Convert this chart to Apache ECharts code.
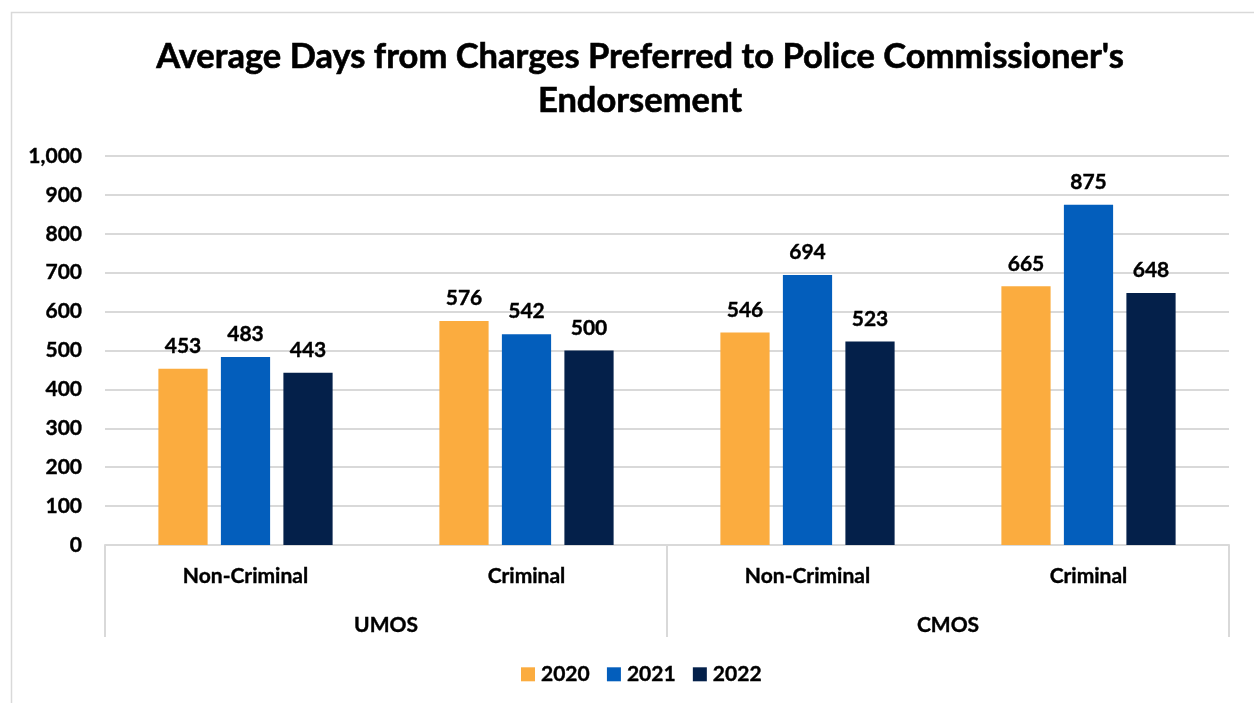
<!DOCTYPE html>
<html>
<head>
<meta charset="utf-8">
<script src="https://cdn.jsdelivr.net/npm/echarts@6/dist/echarts.min.js"></script>
<style>
  html, body { margin: 0; padding: 0; background: #fff; }
  #chart { width: 1254px; height: 703px; }
</style>
</head>
<body>
<div id="chart"></div>
<script>
// Sub-categories along the inner axis, grouped under the outer labels
const categories = ['Non-Criminal', 'Criminal', 'Non-Criminal', 'Criminal'];
const groups = ['UMOS', 'CMOS'];
const years = ['2020', '2021', '2022'];
const values2020 = [453, 576, 546, 665];
const values2021 = [483, 542, 694, 875];
const values2022 = [443, 500, 523, 648];
const colors = ['#FBAC3F', '#035EBC', '#04204A'];

const FONT = 'Lato';
const chart = echarts.init(document.getElementById('chart'));

const seriesData = [values2020, values2021, values2022];

// Shared bold label style (a thin outline gives a heavier stroke)
const boldText = (size) => ({
  fontFamily: FONT, fontSize: size, fontWeight: 'bold', color: '#000',
  textBorderColor: '#000', textBorderWidth: 0.4
});

chart.setOption({
  animation: false,
  textStyle: { fontFamily: FONT },
  title: {
    text: "Average Days from Charges Preferred to Police Commissioner's\nEndorsement",
    left: 635,
    top: 30,
    textAlign: 'center',
    textStyle: Object.assign(boldText(34.5), { lineHeight: 44, textBorderWidth: 0.6 })
  },
  graphic: [{
    type: 'rect',
    shape: { x: 11.5, y: 12.5, width: 1260, height: 700 },
    style: { fill: 'none', stroke: '#D9D9D9', lineWidth: 1.5 },
    silent: true
  }],
  legend: {
    bottom: 13,
    left: 516,
    itemWidth: 14,
    itemHeight: 14,
    itemGap: 17,
    icon: 'rect',
    textStyle: Object.assign(boldText(21), { padding: [0, 0, 0, 1] }),
    data: years
  },
  grid: { left: 105, right: 25, top: 156, bottom: 158 },
  xAxis: [{
    type: 'category',
    data: categories,
    position: 'bottom',
    axisLine: { lineStyle: { color: '#D9D9D9', width: 2 } },
    axisTick: { show: false },
    axisLabel: Object.assign(boldText(21), { margin: 21 })
  }, {
    type: 'category',
    data: groups,
    position: 'bottom',
    axisLine: { show: false },
    axisTick: { show: true, length: 92, alignWithLabel: false, lineStyle: { color: '#D9D9D9', width: 2 } },
    axisLabel: Object.assign(boldText(21), { margin: 70 })
  }],
  yAxis: {
    type: 'value',
    min: 0,
    max: 1000,
    interval: 100,
    axisLine: { show: false },
    axisTick: { show: false },
    splitLine: { lineStyle: { color: '#D9D9D9', width: 2 } },
    axisLabel: Object.assign(boldText(21), {
      margin: 23,
      formatter: v => v.toLocaleString('en-US')
    })
  },
  series: years.map((y, i) => ({
    name: y,
    type: 'bar',
    xAxisIndex: 0,
    data: seriesData[i],
    barGap: '27%',
    barCategoryGap: '38%',
    itemStyle: { color: colors[i] },
    label: Object.assign(boldText(21), {
      show: true,
      position: 'top',
      distance: 12
    })
  }))
});
</script>
</body>
</html>
